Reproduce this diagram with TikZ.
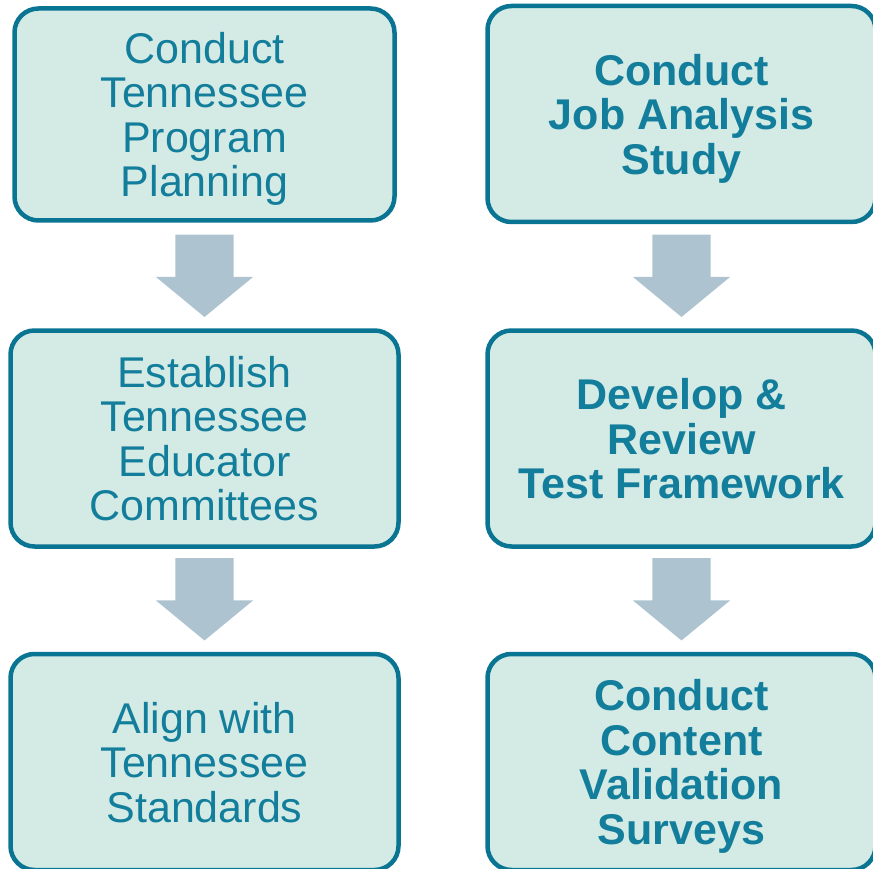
\documentclass[tikz,border=0pt]{standalone}
\usepackage{fontspec}
\setmainfont{Liberation Sans}
\usetikzlibrary{shapes.arrows,calc}
\definecolor{boxfill}{HTML}{D4EAE4}
\definecolor{boxline}{HTML}{0A7493}
\definecolor{boxtext}{HTML}{137E9C}
\definecolor{arrowfill}{HTML}{AEC3D0}
\begin{document}
\begin{tikzpicture}[x=1pt, y=-1pt,
  stepbox/.style = {draw=boxline, fill=boxfill, line width=4.5pt, rounded corners=24pt,
    minimum width=388pt, minimum height=216pt, align=center, text=boxtext, text depth=0pt,
    font=\fontsize{43}{44.5}\selectfont},
  boldbox/.style = {stepbox, font=\fontsize{43}{44.5}\selectfont\bfseries},
  downarrow/.style = {single arrow, fill=arrowfill, draw=none, shape border rotate=270,
    minimum height=81pt, inner sep=29pt, single arrow head extend=19.5pt,
    single arrow tip angle=101, single arrow head indent=0pt, anchor=tip}]
\useasboundingbox (0,0) rectangle (873,869);

\node [stepbox, minimum width=380pt, minimum height=212pt] (plan) at (204.5,114.5) {Conduct\\Tennessee\\Program\\Planning};
\node [stepbox] (committee) at (204.5,438.5) {Establish\\Tennessee\\Educator\\Committees};
\node [stepbox] (align) at (204.5,762) {Align with\\Tennessee\\Standards};

\node [boldbox] (study) at (681.5,114) {Conduct\\Job Analysis\\Study};
\node [boldbox] (frame) at (681.5,438.5) {Develop \&\\Review\\Test Framework};
\node [boldbox] (survey) at (681.5,762) {Conduct\\Content\\Validation\\Surveys};

\node [downarrow] (a1) at ($(committee.north)+(0,-11)$) {};
\node [downarrow] (a2) at ($(align.north)+(0,-11)$) {};
\node [downarrow] (a3) at ($(frame.north)+(0,-11)$) {};
\node [downarrow] (a4) at ($(survey.north)+(0,-11)$) {};
\end{tikzpicture}
\end{document}
